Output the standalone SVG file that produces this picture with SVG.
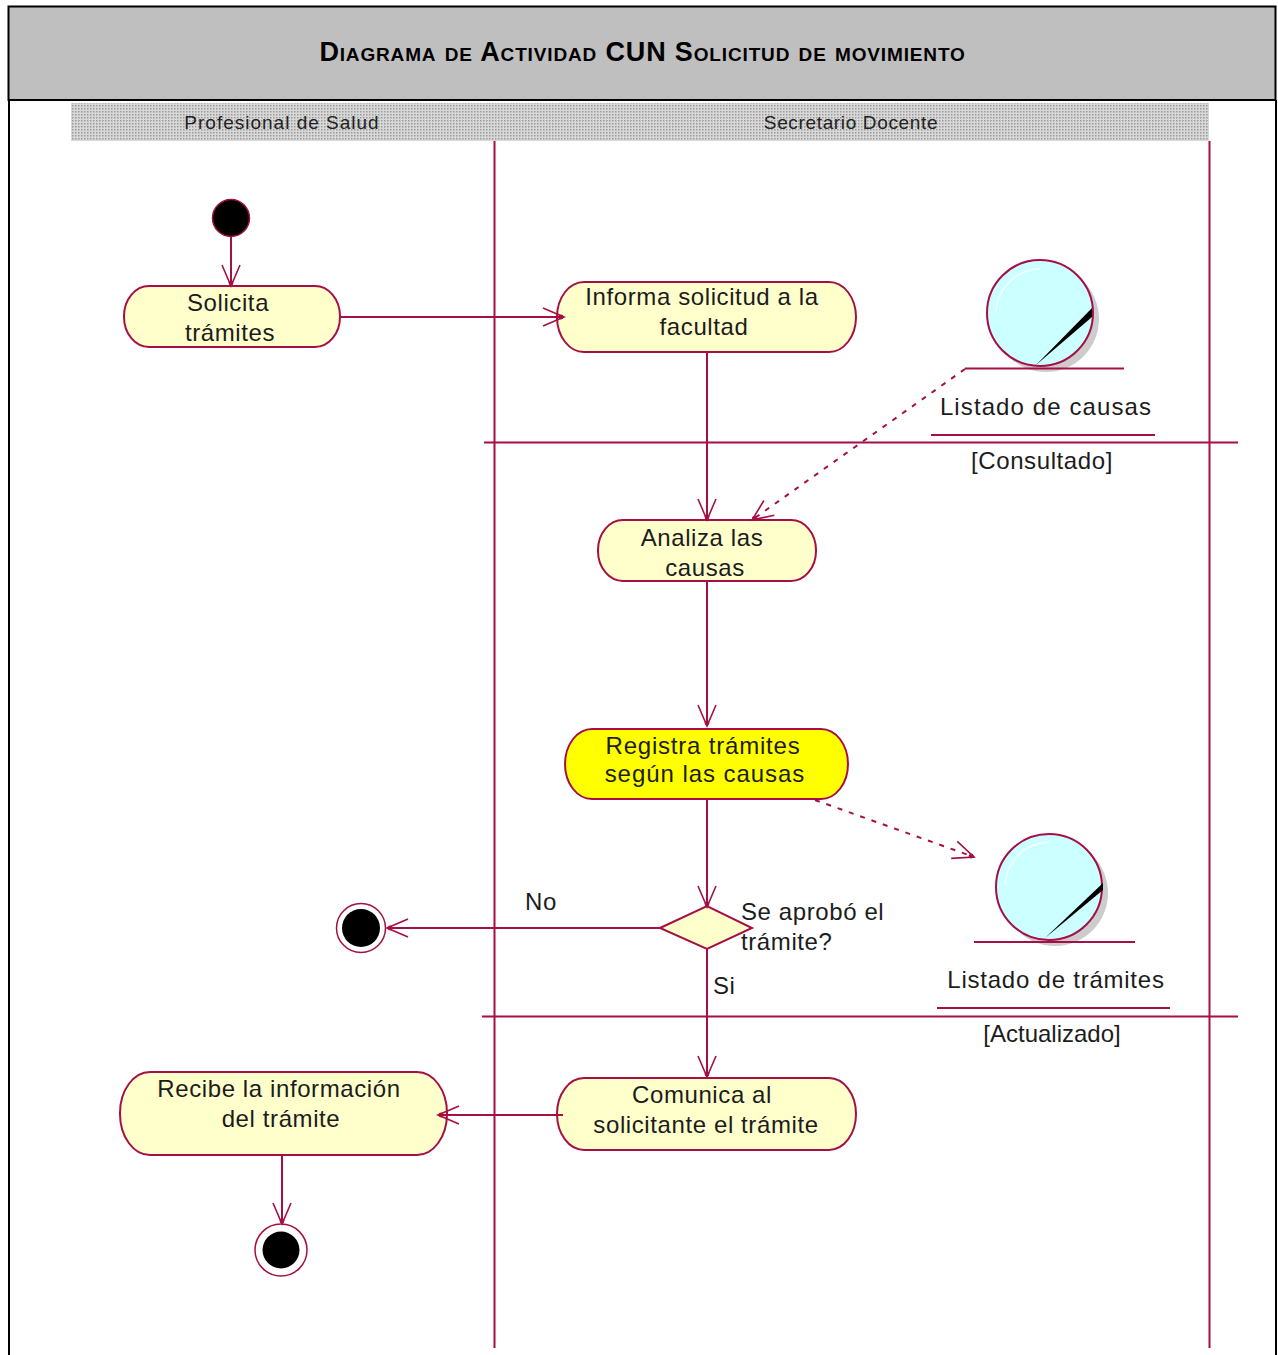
<svg xmlns="http://www.w3.org/2000/svg" width="1278" height="1355" viewBox="0 0 1278 1355">
<style>
.t{font-family:"Liberation Sans",Arial,sans-serif;font-size:24px;fill:#1c1c1c;text-anchor:middle;letter-spacing:.6px}
.s{font-size:24px;text-anchor:start}
.lane{font-family:"Liberation Sans",Arial,sans-serif;font-size:19px;fill:#222;text-anchor:middle;letter-spacing:1px}
.title{font-family:"Liberation Sans",Arial,sans-serif;font-weight:bold;font-size:27px;fill:#000;text-anchor:middle;font-variant:small-caps;letter-spacing:.85px}
.act{fill:#ffffcc;stroke:#a50f45;stroke-width:2}
.ln{fill:none;stroke:#a50f45;stroke-width:2}
.arr{fill:none;stroke:#a50f45;stroke-width:2;marker-end:url(#open)}
.dash{stroke-dasharray:5 7}
.obj{fill:#ccffff;stroke:#a50f45;stroke-width:2}
</style>
<defs>
<pattern id="dots" width="3" height="3" patternUnits="userSpaceOnUse"><rect width="3" height="3" fill="#d8d8d8"/><rect width="1.5" height="1.5" fill="#9a9a9a"/></pattern>
<marker id="open" markerUnits="userSpaceOnUse" markerWidth="30" markerHeight="30" refX="24" refY="12" orient="auto" viewBox="0 0 30 24">
<path d="M3 3 L24 12 L3 21" fill="none" stroke="#a50f45" stroke-width="1.6"/><circle cx="21" cy="12" r="2.4" fill="#a50f45"/>
</marker>
</defs>
<g id="frame">
<rect x="8.500" y="6.500" width="1267" height="93.500" fill="#bfbfbf" stroke="#000" stroke-width="2"/>
<path d="M9 100V1355M1276 100V1355" stroke="#000" stroke-width="2" fill="none"/>
<text class="title" x="642.500" y="61">Diagrama de Actividad CUN Solicitud de movimiento</text>
</g>
<g id="swimlanes">
<rect x="71" y="103" width="1138" height="38" fill="url(#dots)"/>
<text class="lane" x="282" y="129">Profesional de Salud</text>
<text class="lane" style="letter-spacing:.65px" x="851" y="129">Secretario Docente</text>
<path class="ln" d="M494.500 141V1348M1209.500 141V1348"/>
</g>
<g id="sync-bars">
<path class="ln" d="M484 442.500H1238M482 1016.500H1238"/>
</g>
<g id="start"><circle cx="231" cy="218" r="18.500" fill="#000" stroke="#a50f45" stroke-width="1.500"/></g>
<g id="solicita"><rect class="act" x="124" y="286" width="216" height="61" rx="25" ry="30"/>
<text class="t" x="228" y="311">Solicita</text><text class="t" x="230" y="341">trámites</text></g>
<g id="informa"><rect class="act" x="557" y="282" width="299" height="70" rx="27" ry="35"/>
<text class="t" x="702" y="305">Informa solicitud a la</text><text class="t" x="704" y="335">facultad</text></g>
<g id="analiza"><rect class="act" x="598" y="520" width="218" height="61" rx="25" ry="30"/>
<text class="t" x="702" y="546">Analiza las</text><text class="t" x="705" y="576">causas</text></g>
<g id="registra"><rect class="act" style="fill:#ffff00" x="565" y="729" width="283" height="70" rx="27" ry="35"/>
<text class="t" style="letter-spacing:.8px" x="703" y="754">Registra trámites</text><text class="t" style="letter-spacing:.95px" x="705" y="782">según las causas</text></g>
<g id="decision"><path class="act" d="M660 928L707 906L752 928L707 949Z"/>
<text class="t s" x="741" y="920">Se aprobó el</text><text class="t s" x="741" y="950">trámite?</text></g>
<g id="guards"><text class="t s" x="525" y="910">No</text><text class="t s" x="713" y="994">Si</text></g>
<g id="comunica"><rect class="act" x="557" y="1078" width="299" height="72" rx="27" ry="36"/>
<text class="t" x="702" y="1103">Comunica al</text><text class="t" x="706" y="1133">solicitante el trámite</text></g>
<g id="recibe"><rect class="act" x="120" y="1072" width="327" height="83" rx="30" ry="41"/>
<text class="t" x="279" y="1097">Recibe la información</text><text class="t" x="281" y="1127">del trámite</text></g>
<g id="end1"><circle cx="361" cy="928" r="24.500" fill="#fff" stroke="#a50f45" stroke-width="1.500"/><circle cx="361" cy="928" r="19" fill="#000"/></g>
<g id="end2"><circle cx="281" cy="1250" r="26" fill="#fff" stroke="#a50f45" stroke-width="1.500"/><circle cx="281" cy="1250" r="18.500" fill="#000"/></g>
<g id="obj-causas">
<circle cx="1046" cy="319" r="53" fill="#cccccc"/>
<circle class="obj" cx="1040" cy="313" r="53"/>
<path d="M996 312A45 45 0 0 1 1040 269" fill="none" stroke="#fff" stroke-width="1.500" opacity=".8"/>
<path d="M1036 365L1092 308V317Z" fill="#000"/>
<path class="ln" d="M965 368.500H1124M931 435H1155"/>
<text class="t" style="letter-spacing:1.1px" x="1046" y="415">Listado de causas</text>
<text class="t" x="1042" y="469">[Consultado]</text>
</g>
<g id="obj-tramites">
<circle cx="1055" cy="893" r="53" fill="#cccccc"/>
<circle class="obj" cx="1049" cy="887" r="53"/>
<path d="M1005 885A45 45 0 0 1 1049 842" fill="none" stroke="#fff" stroke-width="1.500" opacity=".8"/>
<path d="M1045 938L1103 883V890Z" fill="#000"/>
<path class="ln" d="M974 942H1135M937 1008H1170"/>
<text class="t" style="letter-spacing:.77px" x="1056" y="988">Listado de trámites</text>
<text class="t" style="letter-spacing:0" x="1052" y="1042">[Actualizado]</text>
</g>
<g id="connectors">
<path class="arr" d="M231 237V286"/>
<path class="arr" d="M340 317H564"/>
<path class="arr" d="M707 352V520"/>
<path class="arr" d="M707 581V726"/>
<path class="arr" d="M707 799V907"/>
<path class="arr" d="M660 928H387"/>
<path class="arr" d="M707 949V1077"/>
<path class="arr" d="M563 1115H438"/>
<path class="arr" d="M282 1155V1224"/>
<path class="arr dash" d="M965 369L752 520"/>
<path class="arr dash" d="M815 800L974 857"/>
</g>
</svg>
